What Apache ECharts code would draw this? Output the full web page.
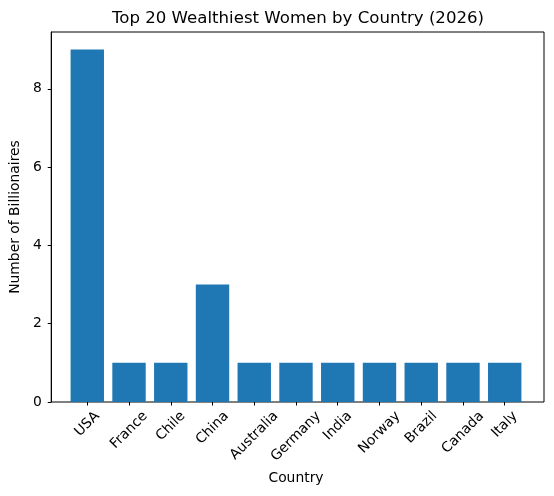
<!DOCTYPE html>
<html><head><meta charset="utf-8">
<script src="https://cdn.jsdelivr.net/npm/echarts@6/dist/echarts.min.js"></script>
<style>html,body{margin:0;padding:0;background:#fff}#c{width:554px;height:496px}</style>
</head><body><div id="c"></div>
<script>
const countries = ['USA','France','Chile','China','Australia','Germany','India','Norway','Brazil','Canada','Italy'];
const billionaires = [9,1,1,3,1,1,1,1,1,1,1];
const yTicks = [0,2,4,6,8];
const yMax = 9.45;

const FONT = '"DejaVu Sans", sans-serif';
const FS = 13.89;
const ctx = document.createElement('canvas').getContext('2d');
ctx.font = FS + 'px "DejaVu Sans"';
const LH = 14;
const rich = {};
countries.forEach((n, i) => {
  const w = ctx.measureText(n).width;
  const p = (w + LH) / 2;
  rich['l' + i] = {fontFamily: FONT, fontSize: FS, color: '#000', lineHeight: LH, padding: [p, p, 0, 0]};
});

const chart = echarts.init(document.getElementById('c'), null, {renderer: 'canvas'});
chart.setOption({
  animation: false,
  backgroundColor: '#fff',
  title: {
    text: 'Top 20 Wealthiest Women by Country (2026)',
    left: 293, top: 5, textAlign: 'center',
    textStyle: {fontFamily: FONT, fontSize: 16.6, fontWeight: 'normal', color: '#000'}
  },
  grid: [
    {left: 66.4, right: 28.4, top: 32, bottom: 94, containLabel: false},
    {left: 48, right: 10, top: 32, bottom: 94, show: true, borderColor: '#000', borderWidth: 1, backgroundColor: 'transparent'}
  ],
  xAxis: [
    {
      type: 'category', gridIndex: 0, data: countries,
      axisLine: {show: false},
      axisTick: {show: true, alignWithLabel: true, length: 3.5, lineStyle: {color: '#000', width: 1}},
      axisLabel: {
        interval: 0, rotate: 45, margin: 7, align: 'center', verticalAlign: 'middle',
        formatter: (v, i) => '{l' + i + '|' + v + '}', rich: rich
      },
      name: 'Country', nameLocation: 'middle', nameGap: 67,
      nameTextStyle: {fontFamily: FONT, fontSize: FS, color: '#000'},
      splitLine: {show: false}
    },
    {
      type: 'value', gridIndex: 1, min: 0, max: 1,
      axisLine: {show: false}, axisTick: {show: false}, axisLabel: {show: false}, splitLine: {show: false}
    }
  ],
  yAxis: [
    {type: 'value', gridIndex: 0, min: 0, max: yMax, show: false, splitLine: {show: false}},
    {
      type: 'value', gridIndex: 1, min: 0, max: yMax,
      axisLine: {show: true, lineStyle: {color: '#000', width: 1}},
      axisTick: {show: true, length: 3.5, customValues: yTicks, lineStyle: {color: '#000', width: 1}},
      axisLabel: {margin: 9.5, customValues: yTicks, fontFamily: FONT, fontSize: FS, color: '#000'},
      splitLine: {show: false},
      name: 'Number of Billionaires', nameLocation: 'middle', nameGap: 27, nameRotate: 90,
      nameTextStyle: {fontFamily: FONT, fontSize: FS, color: '#000'}
    }
  ],
  series: [{
    type: 'bar', xAxisIndex: 0, yAxisIndex: 0, data: billionaires,
    barWidth: '80%', itemStyle: {color: '#1f77b4'}
  }]
});
</script></body></html>
